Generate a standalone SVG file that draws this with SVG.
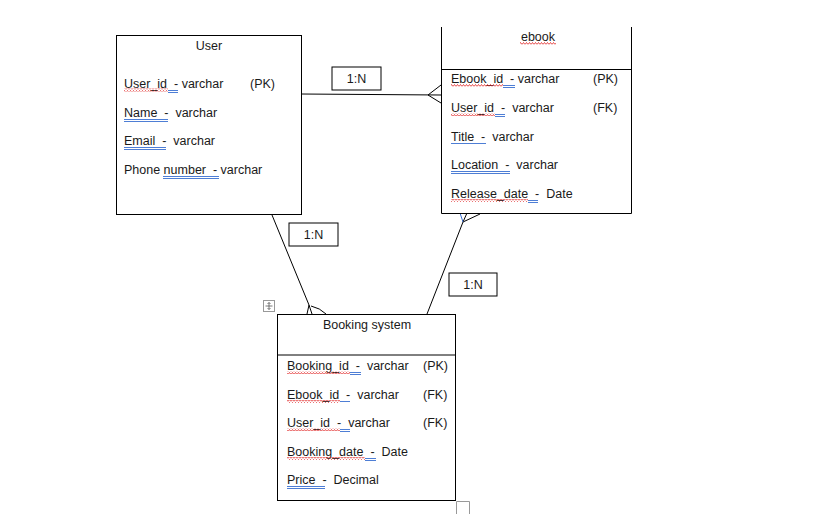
<svg xmlns="http://www.w3.org/2000/svg" width="819" height="514" viewBox="0 0 819 514">
<defs>
<pattern id="wavy" patternUnits="userSpaceOnUse" width="3" height="3"><path d="M0 2.5 L1.5 0.5 L3 2.5" fill="none" stroke="#e02020" stroke-width="0.8"/></pattern>
<style>
text{font-family:"Liberation Sans",Arial,sans-serif;font-size:12.5px;fill:#1a1a1a;white-space:pre}
.box{fill:#fff;stroke:#000;stroke-width:1}
.ln{fill:none;stroke:#000;stroke-width:1}
.lbl{fill:#fff;stroke:#000;stroke-width:1}
.bu{stroke:#3a6fd0;stroke-width:0.9;fill:none}
.wv{fill:url(#wavy)}
.mid{text-anchor:middle}
</style>
</defs>
<rect width="819" height="514" fill="#fff"/>

<g id="connectors">
<path class="ln" d="M301 94 L441 95"/>
<path class="ln" d="M428 95 L441 85 M428 95 L441 103"/>
<path class="ln" d="M272 215 L309 305 L312 314"/>
<path class="ln" d="M309 305 L307 314 M311 306 Q320 308 326 314"/>
<path class="ln" d="M427 314 L463 222 L480 214 M463 222 L467 213"/>
<path d="M463 222 L460 213" stroke="#3a6fd0" stroke-width="1" fill="none"/>
</g>

<g id="label-user-ebook"><rect class="lbl" x="332" y="67" width="49" height="23"/><text x="356.5" y="83" class="mid">1:N</text></g>
<g id="label-user-booking"><rect class="lbl" x="289" y="223" width="49" height="23"/><text x="313.5" y="239" class="mid">1:N</text></g>
<g id="label-ebook-booking"><rect class="lbl" x="449" y="273" width="48" height="23"/><text x="473" y="289" class="mid">1:N</text></g>

<g id="user">
<rect class="box" x="116.5" y="35.5" width="185" height="179"/>
<text x="209" y="50" class="mid">User</text>
<text x="124" y="88">User_id  - varchar</text><text x="250" y="88">(PK)</text>
<rect class="wv" x="124" y="88.5" width="44" height="3"/><path class="bu" d="M168 90.5 H178 M168 92.5 H178"/>
<text x="124" y="117">Name  -  varchar</text>
<path class="bu" d="M124 119.5 H168 M124 121.5 H168"/>
<text x="124" y="145">Email  -  varchar</text>
<path class="bu" d="M124 147.5 H166 M124 149.5 H166"/>
<text x="124" y="174">Phone number  - varchar</text>
<path class="bu" d="M163 176.5 H219 M163 178.5 H219"/>
</g>

<g id="ebook">
<path class="box" d="M441.5 27 V213.5 H631.5 V27"/>
<path class="ln" d="M441.5 69.5 H631.5"/>
<text x="538" y="41" class="mid">ebook</text>
<rect class="wv" x="520" y="42" width="36" height="3"/>
<text x="451" y="83">Ebook_id  - varchar</text><text x="593" y="83">(PK)</text>
<rect class="wv" x="451" y="84" width="52" height="3"/><path class="bu" d="M503 85.5 H515 M503 87.5 H515"/>
<text x="451" y="112">User_id  -  varchar</text><text x="593" y="112">(FK)</text>
<rect class="wv" x="451" y="113" width="44" height="3"/><path class="bu" d="M495 114.5 H505 M495 116.5 H505"/>
<text x="451" y="141">Title  -  varchar</text>
<path class="bu" d="M451 143.5 H486"/>
<text x="451" y="169">Location  -  varchar</text>
<path class="bu" d="M451 171.5 H510 M451 173.5 H510"/>
<text x="451" y="198">Release_date  -  Date</text>
<rect class="wv" x="451" y="199" width="77" height="3"/><path class="bu" d="M528 200.5 H538 M528 202.5 H538"/>
</g>

<g id="booking">
<rect class="box" x="277.5" y="314.5" width="178" height="186"/>
<path class="ln" d="M277.5 355 H455.5"/>
<text x="367" y="329" class="mid">Booking system</text>
<text x="287" y="370">Booking_id  -  varchar</text><text x="423" y="370">(PK)</text>
<rect class="wv" x="287" y="371" width="63" height="3"/><path class="bu" d="M350 372.5 H361 M350 374.5 H361"/>
<text x="287" y="399">Ebook_id  -  varchar</text><text x="423" y="399">(FK)</text>
<rect class="wv" x="287" y="400" width="53" height="3"/><path class="bu" d="M340 401.5 H350"/>
<text x="287" y="427">User_id  -  varchar</text><text x="423" y="427">(FK)</text>
<rect class="wv" x="287" y="428" width="53" height="3"/><path class="bu" d="M340 429.5 H350 M340 431.5 H350"/>
<text x="287" y="456">Booking_date  -  Date</text>
<rect class="wv" x="287" y="457" width="78" height="3"/><path class="bu" d="M365 458.5 H376 M365 460.5 H376"/>
<text x="287" y="484">Price  -  Decimal</text>
<path class="bu" d="M287 486.5 H325 M287 488.5 H325"/>
</g>

<g id="handles">
<rect x="263.5" y="300.5" width="11" height="11" fill="#fff" stroke="#999" stroke-width="1"/>
<path d="M269 302.5 V309.5 M265.5 306 H272.5 M267.5 304 L269 302.5 L270.5 304 M267.5 308 L269 309.5 L270.5 308" fill="none" stroke="#555" stroke-width="0.8"/>
<path d="M456.5 514 V501.5 H469.5 V514" fill="none" stroke="#999" stroke-width="1"/>
</g>
</svg>
